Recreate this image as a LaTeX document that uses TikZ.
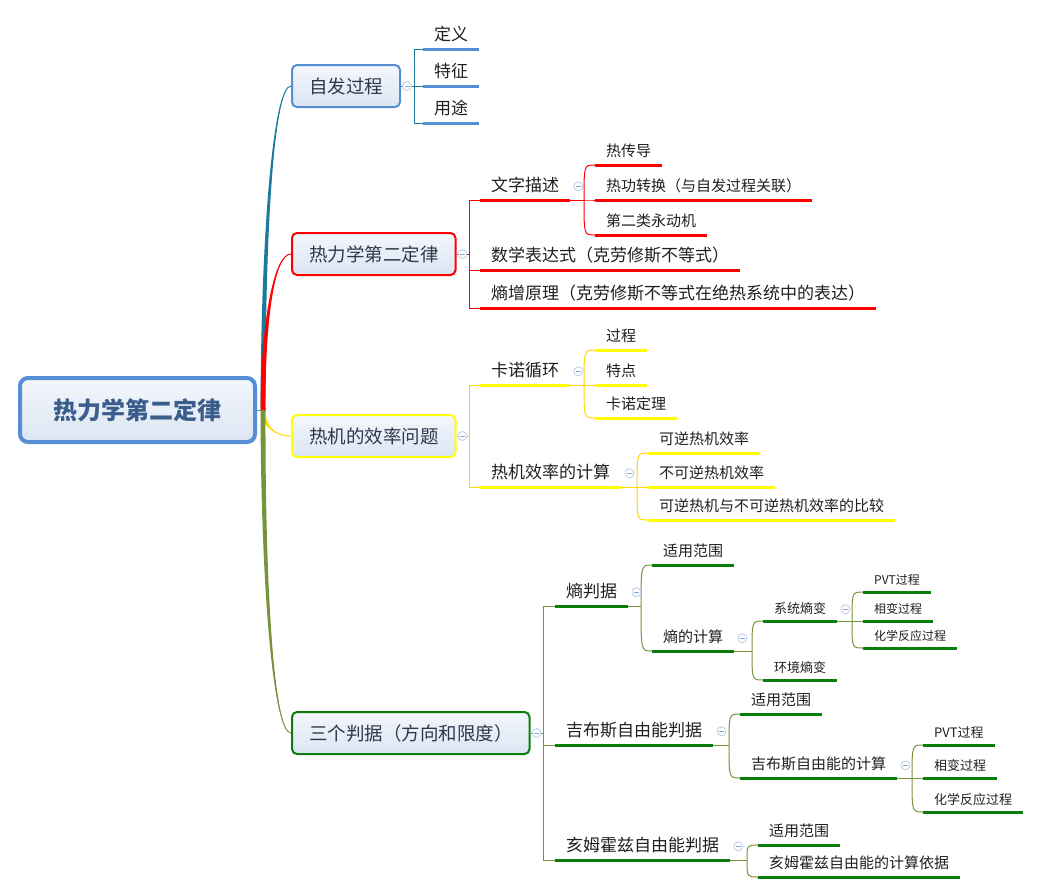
\documentclass[tikz,border=0pt]{standalone}
\usepackage{fontspec}
\newfontfamily\cjk{Noto Sans CJK SC}
\usepackage{xcolor}
\definecolor{mmblue}{HTML}{558ED5}
\definecolor{mmteal}{HTML}{1C7A9C}
\definecolor{mmred}{HTML}{FF0000}
\definecolor{mmyellow}{HTML}{FFFF00}
\definecolor{mmgold}{HTML}{FFD700}
\definecolor{mmgreen}{HTML}{0A7D0A}
\definecolor{mmolive}{HTML}{77933C}
\definecolor{boxtop}{HTML}{F4F7FC}
\definecolor{boxbot}{HTML}{DBE5F2}
\definecolor{roottext}{HTML}{3A5D8C}
\definecolor{topictext}{HTML}{30374A}
\definecolor{foldring}{HTML}{BCCBE8}
\definecolor{foldbar}{HTML}{86A6D8}
\usepackage{tikz}
\usetikzlibrary{calc}

% tapered branch from the central topic
\newcommand{\rootlink}[2]{%
  \fill[#1] ($(hub)+(-2.5,0)$) .. controls ($(hub)!0.55!(hub |- #2.west)+(-2,0)$) and ($(#2.west)+(-18,0)$) .. (#2.west)
    .. controls ($(#2.west)+(-17,0)$) and ($(hub)!0.55!(hub |- #2.west)+(2,0)$) .. ($(hub)+(2.5,0)$) -- cycle;
  \draw[#1, line width=0.9pt] (hub) .. controls ($(hub)!0.55!(hub |- #2.west)$) and ($(#2.west)+(-17.5,0)$) .. (#2.west);}

\begin{document}
\begin{tikzpicture}[x=1pt, y=-1pt, font=\cjk,
    rootbox/.style={rectangle, rounded corners=8pt, minimum width=235pt, minimum height=64pt,
      top color=boxtop, bottom color=boxbot, draw=mmblue, line width=4pt,
      font=\cjk\bfseries\fontsize{24}{28}\selectfont, text=roottext},
    topic/.style={rectangle, rounded corners=5pt, minimum height=42pt, inner xsep=17pt,
      top color=boxtop, bottom color=boxbot, draw=#1, line width=2pt, anchor=west,
      font=\cjk\fontsize{18.5}{22}\selectfont, text=topictext},
    sub/.style={anchor=south west, inner xsep=11pt, inner ysep=5pt, text=black!88,
      append after command={(\tikzlastnode.south west) edge[draw=#1, line width=3pt] (\tikzlastnode.south east)}},
    lvtwo/.style={font=\cjk\fontsize{17}{20}\selectfont, text height=13.6pt, text depth=3.4pt},
    lvthree/.style={font=\cjk\fontsize{15}{18}\selectfont, text height=12pt, text depth=3pt},
    lvfour/.style={font=\cjk\fontsize{13}{16}\selectfont, text height=10.4pt, text depth=2.6pt},
    lvfive/.style={font=\cjk\fontsize{12}{15}\selectfont, text height=9.6pt, text depth=2.4pt},
    fold/.style={circle, draw=foldring, fill=white, line width=0.8pt, minimum size=9pt, inner sep=0pt,
      path picture={\draw[foldbar, line width=1pt] ([xshift=2pt]path picture bounding box.west) -- ([xshift=-2pt]path picture bounding box.east);}},
    wire/.style={draw=#1, line width=1pt}]
  \useasboundingbox (0,0) rectangle (1040,895);

  % central topic
  \node[rootbox] (root) at (137.5,410) {热力学第二定律};
  \coordinate (hub) at ([xshift=6]root.east);
  \draw[mmblue, line width=1pt] (root.east) -- (hub);

  % main topics
  \node[topic=mmblue] (b1) at (291,86) {自发过程};
  \node[topic=mmred] (r1) at (291,254) {热力学第二定律};
  \node[topic=mmyellow] (y1) at (291,436) {热机的效率问题};
  \node[topic=mmgreen] (g1) at (291,733) {三个判据（方向和限度）};

  \rootlink{mmteal}{b1}
  \rootlink{mmred}{r1}
  \rootlink{mmgold}{y1}
  \rootlink{mmolive}{g1}

  % 自发过程
  \node[sub=mmblue, lvtwo] (b11) at (423,49) {定义};
  \node[sub=mmblue, lvtwo] (b12) at (423,86) {特征};
  \node[sub=mmblue, lvtwo] (b13) at (423,123) {用途};

  % 热力学第二定律
  \node[sub=mmred, lvtwo] (r11) at (480,200) {文字描述};
  \node[sub=mmred, lvthree] (r111) at (595,165) {热传导};
  \node[sub=mmred, lvthree] (r112) at (595,200) {热功转换（与自发过程关联）};
  \node[sub=mmred, lvthree] (r113) at (595,235) {第二类永动机};
  \node[sub=mmred, lvtwo] (r12) at (480,270) {数学表达式（克劳修斯不等式）};
  \node[sub=mmred, lvtwo] (r13) at (480,308) {熵增原理（克劳修斯不等式在绝热系统中的表达）};

  % 热机的效率问题
  \node[sub=mmyellow, lvtwo] (y11) at (480,385) {卡诺循环};
  \node[sub=mmyellow, lvthree] (y111) at (595,350) {过程};
  \node[sub=mmyellow, lvthree] (y112) at (595,385) {特点};
  \node[sub=mmyellow, lvthree] (y113) at (595,418) {卡诺定理};
  \node[sub=mmyellow, lvtwo] (y12) at (480,487) {热机效率的计算};
  \node[sub=mmyellow, lvthree] (y121) at (648,453) {可逆热机效率};
  \node[sub=mmyellow, lvthree] (y122) at (648,487) {不可逆热机效率};
  \node[sub=mmyellow, lvthree] (y123) at (648,520) {可逆热机与不可逆热机效率的比较};

  % 三个判据
  \node[sub=mmgreen, lvtwo] (g11) at (555,606) {熵判据};
  \node[sub=mmgreen, lvthree] (g111) at (652,565) {适用范围};
  \node[sub=mmgreen, lvthree] (g112) at (652,651) {熵的计算};
  \node[sub=mmgreen, lvfour] (g1121) at (763,621) {系统熵变};
  \node[sub=mmgreen, lvfive] (g11211) at (863,592) {PVT过程};
  \node[sub=mmgreen, lvfive] (g11212) at (863,621) {相变过程};
  \node[sub=mmgreen, lvfive] (g11213) at (863,648) {化学反应过程};
  \node[sub=mmgreen, lvfour] (g1122) at (763,680) {环境熵变};
  \node[sub=mmgreen, lvtwo] (g12) at (555,745) {吉布斯自由能判据};
  \node[sub=mmgreen, lvthree] (g121) at (740,714) {适用范围};
  \node[sub=mmgreen, lvthree] (g122) at (740,778) {吉布斯自由能的计算};
  \node[sub=mmgreen, lvfour] (g1221) at (923,745) {PVT过程};
  \node[sub=mmgreen, lvfour] (g1222) at (923,778) {相变过程};
  \node[sub=mmgreen, lvfour] (g1223) at (923,812) {化学反应过程};
  \node[sub=mmgreen, lvtwo] (g13) at (555,860) {亥姆霍兹自由能判据};
  \node[sub=mmgreen, lvthree] (g131) at (758,845) {适用范围};
  \node[sub=mmgreen, lvthree] (g132) at (758,877) {亥姆霍兹自由能的计算依据};

  % square brackets from the main topics
  \foreach \p/\col/\kids in {b1/mmteal/{b11,b12,b13}, r1/mmred/{r11,r12,r13},
      y1/mmgold/{y11,y12}, g1/mmolive/{g11,g12,g13}}{
    \draw[wire=\col] (\p.east) -- ++(13,0) coordinate (j);
    \foreach \k in \kids
      \draw[wire=\col] (j) |- (\k.south west);
    \node[fold] (f\p) at ([xshift=6]\p.east) {};
  }

  % curved brackets further out
  \foreach \p/\f/\col/\kids in {r11/r111/mmred/{r111,r112,r113},
      y11/y111/mmgold/{y111,y112,y113}, y12/y121/mmgold/{y121,y122,y123},
      g11/g111/mmolive/{g111,g112}, g112/g1121/mmolive/{g1121,g1122},
      g1121/g11211/mmolive/{g11211,g11212,g11213}, g12/g121/mmolive/{g121,g122},
      g122/g1221/mmolive/{g1221,g1222,g1223}, g13/g131/mmolive/{g131,g132}}{
    \coordinate (j) at ($(\f.south west |- \p.south east)+(-11,0)$);
    \draw[wire=\col] (\p.south east) -- (j);
    \foreach \k in \kids
      \draw[wire=\col] (j) .. controls (j |- \k.south west) .. (\k.south west);
    \node[fold] (f\p) at ([xshift=8]\p.east) {};
  }
\end{tikzpicture}
\end{document}
